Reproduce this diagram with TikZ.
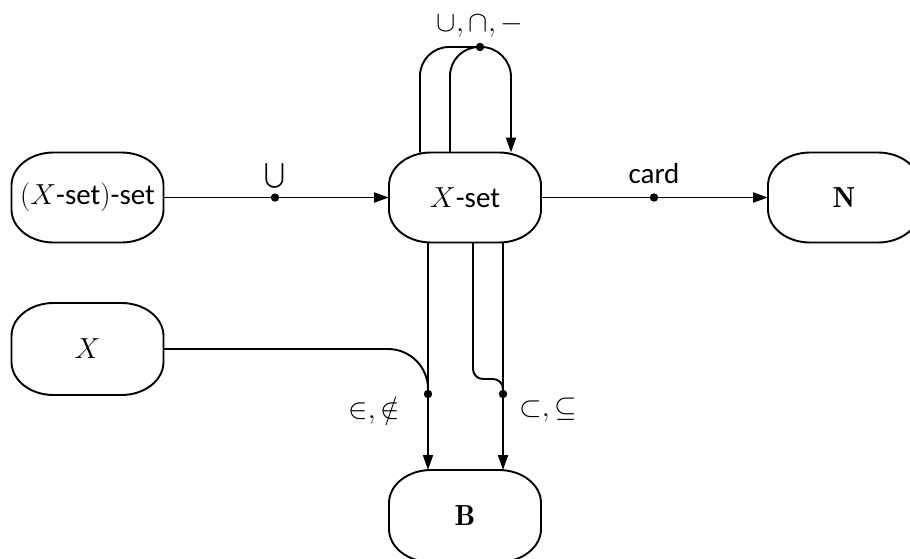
\RequirePackage{fix-cm}
\documentclass[tikz,border=0pt]{standalone}
\usepackage{exscale}
\usepackage{fontspec}
\setsansfont{Carlito}
\usetikzlibrary{arrows.meta,calc}
\newcommand\blobline[1]{%
  \draw[boxline] ([xshift=42pt]#1.north west) -- ([xshift=-42pt]#1.north east)
    arc[start angle=90,end angle=0,x radius=42pt,y radius=33pt]
    -- ([yshift=33pt]#1.south east)
    arc[start angle=0,end angle=-90,x radius=42pt,y radius=33pt]
    -- ([xshift=42pt]#1.south west)
    arc[start angle=270,end angle=180,x radius=42pt,y radius=33pt]
    -- ([yshift=-33pt]#1.north west)
    arc[start angle=180,end angle=90,x radius=42pt,y radius=33pt] -- cycle;}
\tikzset{
  box/.style={draw=none,inner sep=0pt,outer sep=0pt,minimum width=152pt,minimum height=90pt,
    font=\fontsize{29}{34}\selectfont\sffamily},
  boxline/.style={line width=1.9pt},
  conn/.style={line width=1.9pt},
  arr/.style={line width=1.9pt,-{Triangle[length=15pt,width=10pt]}},
  lbl/.style={font=\fontsize{29}{34}\selectfont\sffamily,inner sep=0pt},
  dot/.style={fill=black}
}
\begin{document}
\begin{tikzpicture}[x=1pt,y=1pt]
\useasboundingbox (0,0) rectangle (910,-558);
\node[box] (xss) at (87.5,-197.5) {$(X$-set$)$-set};
\node[box] (xs) at (465,-197.5) {$X$-set};
\node[box] (n) at (844,-197.5) {$\mathbf{N}$};
\node[box,minimum height=92pt] (x) at (87.5,-349) {$X$};
\node[box,minimum height=92pt] (b) at (465,-516) {$\mathbf{B}$};
\blobline{xss}\blobline{xs}\blobline{n}\blobline{x}\blobline{b}
% union
\coordinate (d1) at (275,-197.5);
\draw[arr] (xss.east) -- (xs.west);
\fill[dot] (d1) circle (4.2pt);
\node[lbl] (l1) at (275,-176) {$\bigcup$};
% card
\coordinate (d2) at (654,-197.5);
\draw[arr] (xs.east) -- (n.west);
\fill[dot] (d2) circle (4.2pt);
\node[lbl] (l2) at (654,-174) {card};
% loop
\coordinate (d3) at (480,-47);
\draw[conn,rounded corners=29pt] ([xshift=-45pt]xs.north) |- (d3);
\draw[conn,rounded corners=29pt] ([xshift=-15pt]xs.north) |- (d3);
\draw[arr,rounded corners=30pt] (d3) -| ([xshift=46pt]xs.north);
\fill[dot] (d3) circle (4.2pt);
\node[lbl] (l3) at (480,-26) {$\cup,\cap,-$};
% bottom
\coordinate (dL) at (428,-394);
\coordinate (dR) at (503,-394);
\draw[arr] ([xshift=-37pt]xs.south) -- ([xshift=-37pt]b.north);
\draw[arr] ([xshift=38pt]xs.south) -- ([xshift=38pt]b.north);
\draw[conn,rounded corners=40pt] (x.east) -| (dL);
\draw[conn,rounded corners=10pt] ([xshift=8pt]xs.south) -- (473,-379) -| (dR);
\fill[dot] (dL) circle (4.2pt);
\fill[dot] (dR) circle (4.2pt);
\node[lbl,anchor=east] (l4) at (400,-410) {$\in,\notin$};
\node[lbl,anchor=west] (l5) at (519,-410) {$\subset,\subseteq$};
\end{tikzpicture}
\end{document}
